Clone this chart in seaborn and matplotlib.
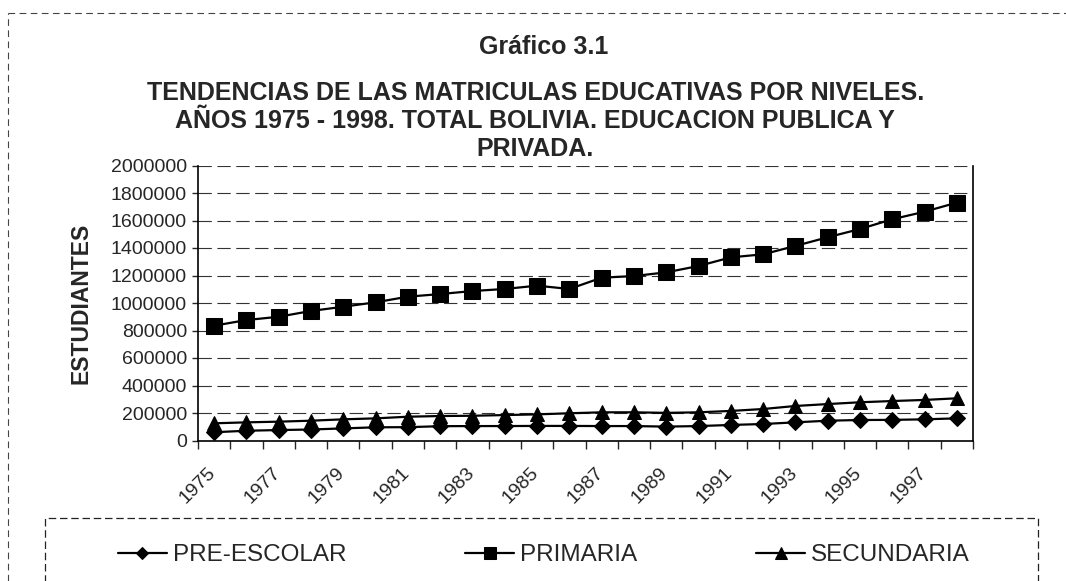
import matplotlib
matplotlib.use('Agg')
import matplotlib.pyplot as plt
import matplotlib.ticker as mticker
from matplotlib.lines import Line2D
from matplotlib.patches import Rectangle
from matplotlib.transforms import ScaledTranslation
import seaborn as sns

# Datos (matrícula por nivel)
anios = [1975, 1976, 1977, 1978, 1979, 1980, 1981, 1982, 1983, 1984, 1985, 1986,
         1987, 1988, 1989, 1990, 1991, 1992, 1993, 1994, 1995, 1996, 1997, 1998]
pre_escolar = [60000, 71000, 76000, 80000, 88000, 96000, 97000, 104000, 105000, 105000,
               106000, 106000, 105000, 105000, 101000, 105000, 113000, 120000, 132000,
               144000, 149000, 150000, 154000, 161000]
primaria = [835000, 876000, 900000, 942000, 973000, 1005000, 1046000, 1065000, 1087000,
            1102000, 1126000, 1102000, 1184000, 1196000, 1223000, 1269000, 1332000,
            1354000, 1415000, 1478000, 1538000, 1609000, 1664000, 1730000]
secundaria = [125000, 132000, 137000, 144000, 154000, 161000, 173000, 178000, 180000,
              185000, 190000, 198000, 205000, 205000, 201000, 205000, 215000, 229000,
              251000, 265000, 278000, 287000, 295000, 307000]
anios_etiqueta = [1975, 1977, 1979, 1981, 1983, 1985, 1987, 1989, 1991, 1993, 1995, 1997]

sns.set_theme(style='white')
plt.rcParams['font.family'] = ['Liberation Sans', 'DejaVu Sans']

W, H = 1066, 581
fig = plt.figure(figsize=(W / 100, H / 100), dpi=100)
ax = fig.add_axes([198 / W, 1 - 440.5 / H, 775 / W, 275 / H])

sns.lineplot(x=anios, y=pre_escolar, ax=ax, color='black', linewidth=1.6,
             marker='D', markersize=8, markeredgecolor='black', label='PRE-ESCOLAR')
sns.lineplot(x=anios, y=primaria, ax=ax, color='black', linewidth=1.6,
             marker='s', markersize=11, markeredgecolor='black', label='PRIMARIA')
sns.lineplot(x=anios, y=secundaria, ax=ax, color='black', linewidth=1.6,
             marker='^', markersize=10, markeredgecolor='black', label='SECUNDARIA')

ax.set_xlim(1974.5, 1998.5)
ax.set_ylim(0, 2000000)
ax.yaxis.set_major_locator(mticker.MultipleLocator(200000))
ax.yaxis.set_major_formatter(mticker.StrMethodFormatter('{x:.0f}'))
ax.tick_params(axis='y', labelsize=14, length=4, width=1, direction='out', pad=4, left=True)

ax.set_xticks(anios_etiqueta)
ax.set_xticklabels([str(a) for a in anios_etiqueta], rotation=45, ha='right',
                   rotation_mode='anchor', fontsize=14)
ax.set_xticks([a - 0.5 for a in anios] + [1998.5], minor=True)
ax.tick_params(axis='x', which='major', length=0, pad=17)
ax.tick_params(axis='x', which='minor', length=6, width=1, direction='out', bottom=True)
for lab in ax.get_xticklabels():
    lab.set_transform(lab.get_transform() + ScaledTranslation(-5 / 72, 0, fig.dpi_scale_trans))

ax.set_xlabel('')
ax.set_ylabel('ESTUDIANTES', fontsize=16.5, fontweight='bold')
ax.yaxis.set_label_coords(-0.136, 0.5)

ax.grid(axis='y', color='#333333', linestyle=(0, (12, 5)), linewidth=0.8)
ax.grid(axis='x', visible=False)
for s in ['left', 'bottom', 'right']:
    ax.spines[s].set_color('black')
    ax.spines[s].set_linewidth(1.2)
ax.spines['top'].set_visible(False)

# Títulos
fig.text(0.51, 1 - 47 / H, 'Gráfico 3.1', ha='center', va='center',
         fontsize=18, fontweight='bold')
fig.text(0.502, 1 - 121 / H,
         'TENDENCIAS DE LAS MATRICULAS EDUCATIVAS POR NIVELES.\n'
         'AÑOS 1975 - 1998. TOTAL BOLIVIA. EDUCACION PUBLICA Y\n'
         'PRIVADA.', ha='center', va='center', fontsize=18, fontweight='bold',
         linespacing=1.22)

# Leyenda
handles, labels = ax.get_legend_handles_labels()
ax.get_legend().remove()
fig.legend(handles, labels, loc='center', bbox_to_anchor=(544 / W, 1 - 555 / H),
           ncol=3, frameon=False, fontsize=17.5, handlelength=2.0, handletextpad=0.25,
           columnspacing=4.9, markerscale=0.8)
fig.add_artist(Rectangle((45 / W, 1 - 620 / H), (1038 - 45) / W, (620 - 518) / H,
                         transform=fig.transFigure, fill=False, edgecolor='#222222',
                         linewidth=0.9, linestyle=(0, (6, 3))))

# Bordes de la página escaneada
fig.add_artist(Line2D([8 / W, 8 / W], [0, 1 - 13 / H], transform=fig.transFigure,
                      color='#444444', linewidth=0.8, linestyle=(0, (6, 4))))
fig.add_artist(Line2D([8 / W, 1], [1 - 13 / H, 1 - 13 / H], transform=fig.transFigure,
                      color='#444444', linewidth=0.8, linestyle=(0, (6, 4))))

fig.savefig('out.png', dpi=100)
